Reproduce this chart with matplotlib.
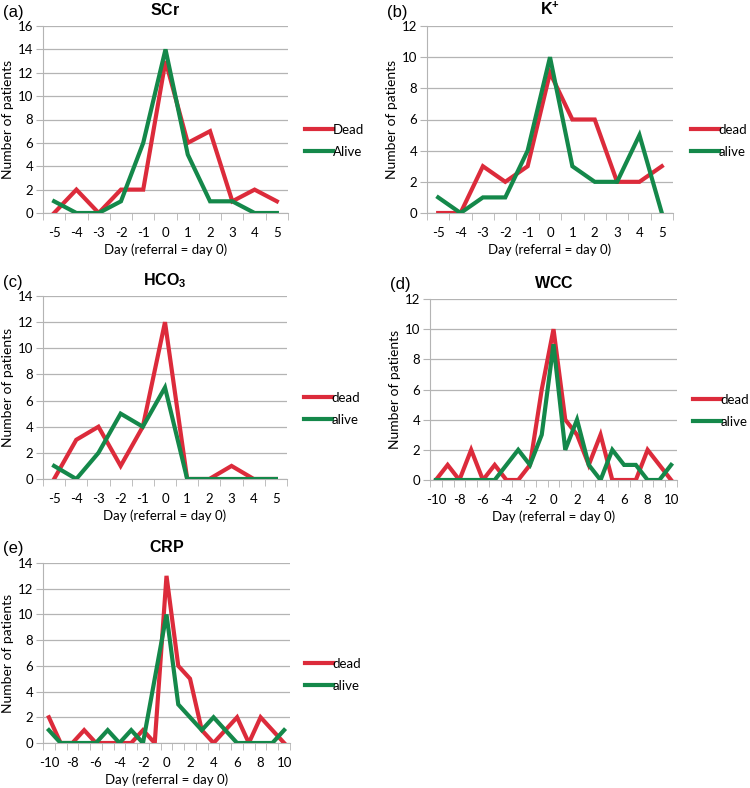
import matplotlib
matplotlib.use('Agg')
import matplotlib.pyplot as plt
import numpy as np

plt.rcParams['font.family'] = ['Lato', 'DejaVu Sans']
plt.rcParams['mathtext.fontset'] = 'custom'
plt.rcParams['mathtext.bf'] = 'Liberation Sans:bold'
plt.rcParams['mathtext.rm'] = 'Liberation Sans'

RED = '#dc2b3b'
GREEN = '#14884a'
GRID = '#b4b4b4'

days_5 = list(range(-5, 6))
days_10 = list(range(-10, 11))

# (a) SCr
scr_dead = [0, 2, 0, 2, 2, 13, 6, 7, 1, 2, 1]
scr_alive = [1, 0, 0, 1, 6, 14, 5, 1, 1, 0, 0]
# (b) K+
k_dead = [0, 0, 3, 2, 3, 9, 6, 6, 2, 2, 3]
k_alive = [1, 0, 1, 1, 4, 10, 3, 2, 2, 5, 0]
# (c) HCO3
hco3_dead = [0, 3, 4, 1, 4, 12, 0, 0, 1, 0, 0]
hco3_alive = [1, 0, 2, 5, 4, 7, 0, 0, 0, 0, 0]
# (d) WCC
wcc_dead = [0, 1, 0, 2, 0, 1, 0, 0, 1, 6, 10, 4, 3, 1, 3, 0, 0, 0, 2, 1, 0]
wcc_alive = [0, 0, 0, 0, 0, 0, 1, 2, 1, 3, 9, 2, 4, 1, 0, 2, 1, 1, 0, 0, 1]
# (e) CRP
crp_dead = [2, 0, 0, 1, 0, 0, 0, 0, 1, 0, 13, 6, 5, 1, 0, 1, 2, 0, 2, 1, 0]
crp_alive = [1, 0, 0, 0, 0, 1, 0, 1, 0, 5, 10, 3, 2, 1, 2, 1, 0, 0, 0, 0, 1]

W, H = 750, 788
fig = plt.figure(figsize=(W / 100, H / 100), dpi=100)


def box(l, t, r, b):
    return [l / W, 1 - b / H, (r - l) / W, (b - t) / H]


panels = [
    # label, title, days, dead, alive, names, ymax, axes box, legend pos, label step
    ('(a)', r'$\mathbf{SCr}$', days_5, scr_dead, scr_alive, ('Dead', 'Alive'),
     16, (43, 26, 288, 213), (305, 141), 1),
    ('(b)', r'$\mathbf{K^{+}}$', days_5, k_dead, k_alive, ('dead', 'alive'),
     12, (427, 26, 673, 213), (691, 141), 1),
    ('(c)', r'$\mathbf{HCO_3}$', days_5, hco3_dead, hco3_alive, ('dead', 'alive'),
     14, (43, 296, 287, 479), (304, 409), 1),
    ('(d)', r'$\mathbf{WCC}$', days_10, wcc_dead, wcc_alive, ('dead', 'alive'),
     12, (430, 299, 677, 480), (693, 411), 2),
    ('(e)', r'$\mathbf{CRP}$', days_10, crp_dead, crp_alive, ('dead', 'alive'),
     14, (43, 563, 290, 743), (305, 675), 2),
]

for lab, title, days, dead, alive, names, ymax, bx, lpos, lstep in panels:
    ax = fig.add_axes(box(*bx))
    x = np.arange(len(days))
    ax.plot(x, dead, color=RED, lw=3.0, label=names[0], solid_joinstyle='miter', zorder=3)
    ax.plot(x, alive, color=GREEN, lw=3.0, label=names[1], solid_joinstyle='miter', zorder=3)
    ax.set_xlim(-0.5, len(days) - 0.5)
    ax.set_ylim(0, ymax)
    ax.set_yticks(range(0, ymax + 1, 2))
    ax.yaxis.grid(True, color=GRID, lw=0.9)
    ax.set_axisbelow(True)

    # Excel-style category axis: labels at points, ticks at boundaries
    ax.set_xticks(x[::lstep])
    ax.set_xticklabels([str(d) for d in days[::lstep]])
    ax.set_xticks(np.arange(-0.5, len(days), 1), minor=True)
    ax.tick_params(axis='x', which='major', length=0, pad=10, labelsize=9.5)
    ax.tick_params(axis='x', which='minor', length=5, color=GRID, direction='out')
    ax.tick_params(axis='y', length=5, color=GRID, labelsize=9.5, pad=2)

    for s in ('top', 'right'):
        ax.spines[s].set_visible(False)
    ax.spines['left'].set_color(GRID)
    ax.spines['bottom'].set_color(GRID)

    ax.set_xlabel('Day (referral = day 0)', fontsize=9.5, labelpad=3)
    ax.set_ylabel('Number of patients', fontsize=10, labelpad=3)
    ax.set_title(title, fontsize=11.5, pad=8)

    ax.legend(loc='center left', bbox_to_anchor=(lpos[0] / W, 1 - lpos[1] / H),
              bbox_transform=fig.transFigure, frameon=False, fontsize=9.5,
              handlelength=2.1, handletextpad=0.0, labelspacing=0.75, borderaxespad=0,
              borderpad=0)

    fig.text((bx[0] - 40) / W, 1 - (bx[1] - 14) / H, lab, fontsize=12,
             family='Liberation Sans', va='center', ha='left')

fig.savefig('out.png', dpi=100)
